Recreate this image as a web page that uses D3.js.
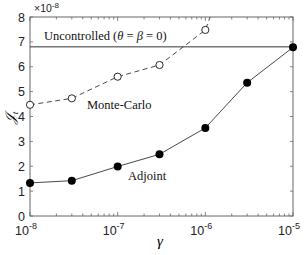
<!DOCTYPE html>
<html>
<head>
<style>
  body { margin: 0; background: #fff; }
  text { font-family: "Liberation Sans", Arial, sans-serif; }
  .serif { font-family: "Liberation Serif", "DejaVu Serif", serif; }
</style>
</head>
<body>
<svg width="306" height="255"></svg>
<script src="https://d3js.org/d3.v7.min.js"></script>
<script>

const gammas = [1e-8, 3e-8, 1e-7, 3e-7, 1e-6, 3e-6, 1e-5];
const adjoint = [1.33, 1.42, 1.99, 2.48, 3.54, 5.36, 6.78];
const monteCarloGammas = [1e-8, 3e-8, 1e-7, 3e-7, 1e-6, 3e-6];
const monteCarlo = [4.47, 4.73, 5.6, 6.07, 7.48, 12];
const uncontrolled = 6.8;
const yTicks = [0, 1, 2, 3, 4, 5, 6, 7, 8];
const xTickExps = [-8, -7, -6, -5];

const svg = d3.select("svg");
const mLeft = 30, mRight = 293, mTop = 17, mBottom = 216;

const x = d3.scaleLog().domain([1e-8, 1e-5]).range([mLeft, mRight]);
const y = d3.scaleLinear().domain([0, 8]).range([mBottom, mTop]);

svg.append("defs").append("clipPath").attr("id", "clip")
  .append("rect").attr("x", mLeft).attr("y", mTop)
  .attr("width", mRight - mLeft).attr("height", mBottom - mTop);

const axisColor = "#666";

// minor ticks on log axis
const minor = [];
for (let e = -8; e < -5; e++) {
  for (let k = 2; k <= 9; k++) minor.push(k * Math.pow(10, e));
}
const ticks = svg.append("g").attr("stroke", axisColor).attr("stroke-width", 0.8);
minor.forEach(v => {
  ticks.append("line").attr("x1", x(v)).attr("x2", x(v)).attr("y1", mBottom).attr("y2", mBottom - 2.5);
  ticks.append("line").attr("x1", x(v)).attr("x2", x(v)).attr("y1", mTop).attr("y2", mTop + 2.5);
});
xTickExps.forEach(e => {
  const v = Math.pow(10, e);
  ticks.append("line").attr("x1", x(v)).attr("x2", x(v)).attr("y1", mBottom).attr("y2", mBottom - 4);
  ticks.append("line").attr("x1", x(v)).attr("x2", x(v)).attr("y1", mTop).attr("y2", mTop + 4);
});
yTicks.forEach(v => {
  ticks.append("line").attr("x1", mLeft).attr("x2", mLeft + 3).attr("y1", y(v)).attr("y2", y(v));
  ticks.append("line").attr("x1", mRight).attr("x2", mRight - 3).attr("y1", y(v)).attr("y2", y(v));
});

// box
svg.append("rect").attr("x", mLeft).attr("y", mTop)
  .attr("width", mRight - mLeft).attr("height", mBottom - mTop)
  .attr("fill", "none").attr("stroke", axisColor).attr("stroke-width", 1);

// y tick labels
svg.append("g").selectAll("text").data(yTicks).enter().append("text")
  .attr("x", mLeft - 5).attr("y", d => y(d) + 4.5)
  .attr("text-anchor", "end").attr("font-size", 12.5).attr("fill", "#222")
  .text(d => d);

// x tick labels
const xl = svg.append("g").selectAll("text").data(xTickExps).enter().append("text")
  .attr("x", d => x(Math.pow(10, d)) - 4).attr("y", 235)
  .attr("text-anchor", "middle").attr("font-size", 12.5).attr("fill", "#222");
xl.append("tspan").text("10");
xl.append("tspan").attr("dy", -6).attr("font-size", 9).text(d => d);

// exponent label
const ex = svg.append("text").attr("x", 34).attr("y", 12).attr("font-size", 10.5).attr("fill", "#222");
ex.append("tspan").text("\u00d710");
ex.append("tspan").attr("dy", -4).attr("font-size", 8).text("-8");

// axis labels
svg.append("text").attr("class", "serif")
  .attr("x", 160).attr("y", 246).attr("text-anchor", "middle")
  .attr("font-size", 15).attr("font-style", "italic").text("\u03b3");
const yl = svg.append("text").attr("class", "serif")
  .attr("transform", "translate(15,118) rotate(-90)").attr("text-anchor", "middle")
  .attr("font-size", 14).attr("font-style", "italic");
yl.append("tspan").text("\ud835\udca5");
yl.append("tspan").attr("dy", 3).attr("font-size", 9).text("t");

const plot = svg.append("g").attr("clip-path", "url(#clip)");

// uncontrolled line
plot.append("line").attr("x1", mLeft).attr("x2", mRight)
  .attr("y1", y(uncontrolled)).attr("y2", y(uncontrolled))
  .attr("stroke", "#333").attr("stroke-width", 1);

const line = d3.line().x(d => x(d[0])).y(d => y(d[1]));

const mcData = monteCarloGammas.map((g, i) => [g, monteCarlo[i]]);
const adjData = gammas.map((g, i) => [g, adjoint[i]]);

plot.append("path").datum(mcData).attr("d", line)
  .attr("fill", "none").attr("stroke", "#333").attr("stroke-width", 0.9)
  .attr("stroke-dasharray", "5,3.5");
plot.append("path").datum(adjData).attr("d", line)
  .attr("fill", "none").attr("stroke", "#333").attr("stroke-width", 0.9);

svg.append("g").selectAll("circle").data(mcData.filter(d => d[1] <= 8)).enter().append("circle")
  .attr("cx", d => x(d[0])).attr("cy", d => y(d[1])).attr("r", 3.6)
  .attr("fill", "#fff").attr("stroke", "#111").attr("stroke-width", 0.9);
svg.append("g").selectAll("circle").data(adjData).enter().append("circle")
  .attr("cx", d => x(d[0])).attr("cy", d => y(d[1])).attr("r", 4)
  .attr("fill", "#000");

// annotations
const unc = svg.append("text").attr("class", "serif").attr("x", 44).attr("y", 40)
  .attr("font-size", 12.5).attr("fill", "#111");
unc.append("tspan").text("Uncontrolled (");
unc.append("tspan").attr("font-style", "italic").text("\u03b8");
unc.append("tspan").text(" = ");
unc.append("tspan").attr("font-style", "italic").text("\u03b2");
unc.append("tspan").text(" = 0)");
svg.append("text").attr("class", "serif").attr("x", 87).attr("y", 109)
  .attr("font-size", 12.5).attr("fill", "#111").text("Monte-Carlo");
svg.append("text").attr("class", "serif").attr("x", 128).attr("y", 180)
  .attr("font-size", 12.5).attr("fill", "#111").text("Adjoint");

</script>
</body>
</html>
